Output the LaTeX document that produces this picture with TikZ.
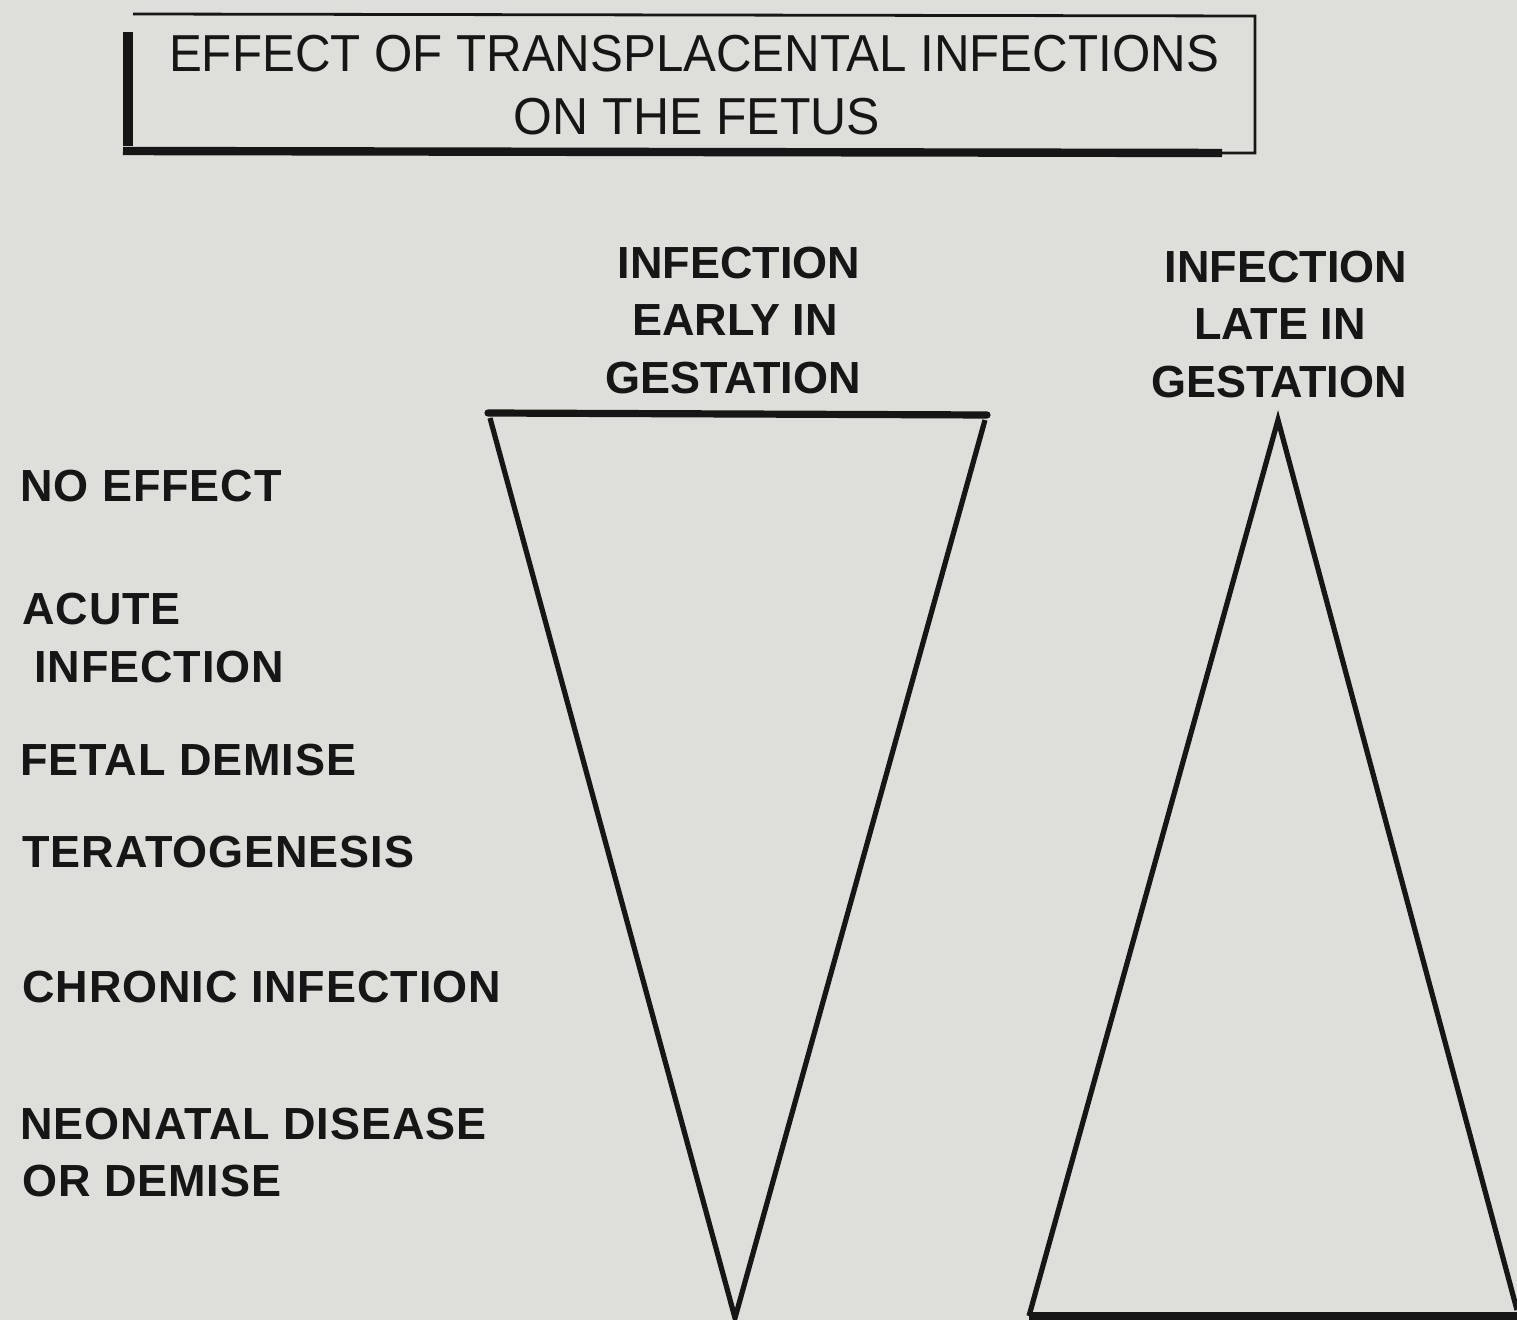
\documentclass[tikz,border=0pt]{standalone}
\usepackage{fontspec}
\setmainfont{Liberation Sans}
\newfontfamily\lblfont[LetterSpace=2]{Liberation Sans}
\definecolor{paper}{RGB}{222,222,219}
\definecolor{ink}{RGB}{22,22,22}
\begin{document}
\begin{tikzpicture}[x=0.5pt,y=-0.5pt,
  lbl/.style={anchor=west,inner sep=0pt,text=ink,font=\lblfont\fontsize{22.5}{26}\selectfont\bfseries},
  hdr/.style={anchor=center,inner sep=0pt,text=ink,font=\fontsize{22.5}{26}\selectfont\bfseries},
  ttl/.style={anchor=center,inner sep=0pt,text=ink,font=\fontsize{26}{30}\selectfont},
  side/.style={draw=ink,line width=2.6pt},
  base/.style={draw=ink,line width=3.6pt,line cap=round}]
\fill[paper] (0,0) rectangle (1517,1320);
\useasboundingbox (0,0) rectangle (1517,1320);
% title box
\draw[draw=ink,line width=1.4pt] (133,14) -- (1255,16) -- (1255,153) -- (1215,153);
\draw[draw=ink,line width=5pt] (128,32) -- (128,146);
\draw[draw=ink,line width=4.2pt] (123,151) -- (1222,153);
\node[ttl] (t1) at (694,54) {\scalebox{0.947}[1]{EFFECT OF TRANSPLACENTAL INFECTIONS}};
\node[ttl] (t2) at (697,117) {\scalebox{0.96}[1]{ON THE FETUS}};
% headers
\node[hdr] (e1) at (739,263) {INFECTION};
\node[hdr] (e2) at (735,320) {EARLY IN};
\node[hdr] (e3) at (733,378) {GESTATION};
\node[hdr] (l1) at (1286,267) {INFECTION};
\node[hdr] (l2) at (1280,324) {LATE IN};
\node[hdr] (l3) at (1279,382) {GESTATION};
% left labels
\node[lbl] (a) at (20,486) {NO EFFECT};
\node[lbl] (b1) at (22,609) {ACUTE};
\node[lbl] (b2) at (34,667) {INFECTION};
\node[lbl] (c) at (20,760) {FETAL DEMISE};
\node[lbl] (d) at (22,852) {TERATOGENESIS};
\node[lbl] (e) at (22,987) {CHRONIC INFECTION};
\node[lbl] (f1) at (20,1124) {NEONATAL DISEASE};
\node[lbl] (f2) at (22,1181) {OR DEMISE};
% early triangle (inverted)
\coordinate (ETL) at (488,413);
\coordinate (ETR) at (987,415);
\coordinate (EA) at (735,1318);
\draw[base] (ETL) -- (ETR);
\draw[side] (490,418) -- (EA) -- (985,420);
% late triangle
\coordinate (LA) at (1278,420);
\coordinate (LBL) at (1029,1316);
\coordinate (LBR) at (1517,1316);
\draw[side] (LBL) -- (LA) -- (1517,1310);
\draw[base,line cap=butt] (1029,1316) -- (LBR);
\end{tikzpicture}
\end{document}
